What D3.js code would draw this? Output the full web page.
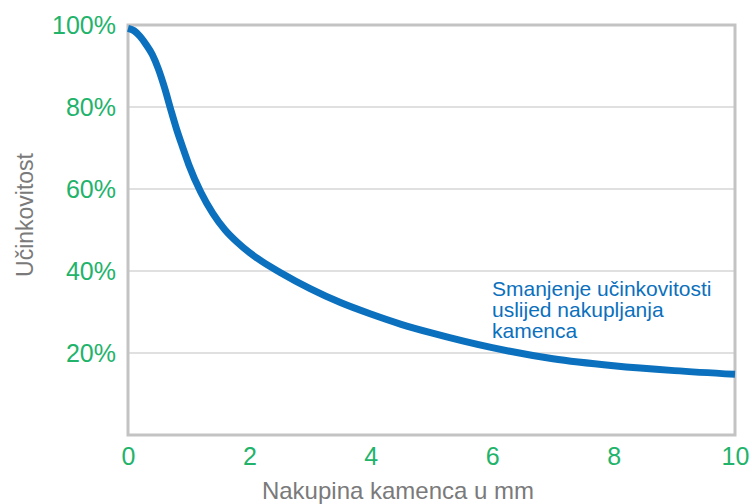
<!DOCTYPE html>
<html>
<head>
<meta charset="utf-8">
<script src="https://cdn.jsdelivr.net/npm/d3@7/dist/d3.min.js"></script>
<style>
  html, body { margin: 0; padding: 0; background: #fff; }
  svg { display: block; font-family: "Liberation Sans", Arial, sans-serif; }
</style>
</head>
<body>
<svg id="chart" width="752" height="504"></svg>
<script>
// Scale thickness (mm) and the resulting efficiency (%)
const thicknessMm = [0, 0.1, 0.2, 0.3, 0.4, 0.5, 0.6, 0.7, 0.8, 0.9, 1.0, 1.2, 1.4, 1.6, 1.8, 2.0, 2.2, 2.5, 3.0, 3.5, 4.0, 4.5, 5.0, 6.0, 7.0, 8.0, 9.0, 10.0];
const efficiencyPct = [99.2, 98.6, 97.2, 95.2, 92.8, 89.3, 84.8, 79.6, 74.6, 70.2, 66, 59.2, 54, 50, 47, 44.5, 42.4, 39.7, 35.7, 32.3, 29.5, 27.0, 24.9, 21.3, 18.6, 16.9, 15.7, 14.8];

const xTicks = [0, 2, 4, 6, 8, 10];
const yTicks = [20, 40, 60, 80, 100];
const yGrid = [20, 40, 60, 80];

const xTitle = "Nakupina kamenca u mm";
const yTitle = "Učinkovitost";
const noteLines = ["Smanjenje učinkovitosti", "uslijed nakupljanja", "kamenca"];

const svg = d3.select("#chart");
const plotLeft = 128, plotRight = 735, plotTop = 25, plotBottom = 435;

const x = d3.scaleLinear().domain([0, 10]).range([plotLeft, plotRight]);
const y = d3.scaleLinear().domain([0, 100]).range([plotBottom, plotTop]);

const green = "#22b36b";
const blue = "#0b70bd";
const grey = "#7a7a7a";

// horizontal grid lines
svg.append("g")
  .selectAll("line")
  .data(yGrid)
  .join("line")
  .attr("x1", plotLeft).attr("x2", plotRight)
  .attr("y1", d => y(d)).attr("y2", d => y(d))
  .attr("stroke", "#d6d6d6")
  .attr("stroke-width", 1.5);

// plot frame
svg.append("rect")
  .attr("x", plotLeft).attr("y", plotTop)
  .attr("width", plotRight - plotLeft).attr("height", plotBottom - plotTop)
  .attr("fill", "none")
  .attr("stroke", "#c3c3c3")
  .attr("stroke-width", 3);

// y axis labels
const yAxis = d3.axisLeft(y).tickValues(yTicks).tickFormat(d => d + "%").tickSize(0).tickPadding(12);
const gy = svg.append("g").attr("transform", `translate(${plotLeft},0)`).call(yAxis);
gy.select(".domain").remove();
gy.selectAll("text")
  .attr("fill", green)
  .attr("font-size", 25)
  .attr("font-family", "Liberation Sans, Arial, sans-serif")
  .attr("dy", "0.35em");

// x axis labels
const xAxis = d3.axisBottom(x).tickValues(xTicks).tickFormat(d3.format("d")).tickSize(0).tickPadding(12);
const gx = svg.append("g").attr("transform", `translate(0,${plotBottom})`).call(xAxis);
gx.select(".domain").remove();
gx.selectAll("text")
  .attr("fill", green)
  .attr("font-size", 25)
  .attr("font-family", "Liberation Sans, Arial, sans-serif");

// axis titles
svg.append("text")
  .attr("x", 398).attr("y", 499)
  .attr("text-anchor", "middle")
  .attr("fill", grey)
  .attr("font-size", 24)
  .text(xTitle);

svg.append("text")
  .attr("transform", "translate(33,215) rotate(-90)")
  .attr("text-anchor", "middle")
  .attr("fill", grey)
  .attr("font-size", 23)
  .text(yTitle);

// efficiency curve
const line = d3.line()
  .x((d, i) => x(thicknessMm[i]))
  .y(d => y(d))
  .curve(d3.curveMonotoneX);

svg.append("path")
  .datum(efficiencyPct)
  .attr("d", line)
  .attr("fill", "none")
  .attr("stroke", blue)
  .attr("stroke-width", 7);

// annotation
const note = svg.append("text")
  .attr("x", 492).attr("y", 296)
  .attr("fill", blue)
  .attr("font-size", 21);
note.selectAll("tspan")
  .data(noteLines)
  .join("tspan")
  .attr("x", 492)
  .attr("dy", (d, i) => i === 0 ? 0 : 21)
  .text(d => d);
</script>
</body>
</html>
